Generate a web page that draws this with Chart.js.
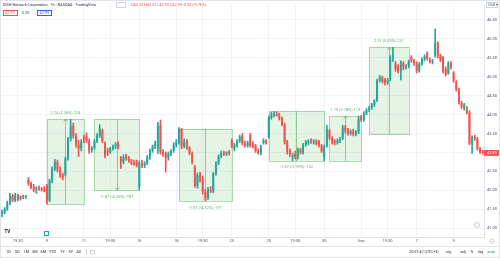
<!DOCTYPE html>
<html>
<head>
<meta charset="utf-8">
<script src="https://cdn.jsdelivr.net/npm/chart.js@4.4.0/dist/chart.umd.min.js"></script>
<style>
  html, body { margin: 0; padding: 0; background: #fff; }
</style>
</head>
<body>
<canvas id="dish" width="500" height="258"></canvas>
<script>
// hourly bars, Aug 4 (last 3 bars) .. Sep 10
var opens = [41.38,41.42,41.50,41.66,41.86,41.74,41.88,41.78,41.84,41.82,
  42.28,42.18,42.10,42.02,42.06,42.04,42.04,42.12,41.74,42.26,
  42.58,42.76,42.54,42.40,42.42,42.84,43.36,43.70,43.44,43.22,
  43.10,43.40,43.44,43.30,43.06,43.12,43.30,43.44,43.58,43.24,
  43.04,43.02,43.10,43.16,43.24,42.86,42.76,42.90,42.84,42.78,
  42.72,42.74,42.10,42.72,42.66,42.72,42.86,43.04,43.16,43.10,
  43.72,43.02,42.96,42.86,42.98,43.04,43.20,43.26,43.62,43.16,
  43.30,43.12,42.98,42.62,42.12,42.40,42.32,41.96,41.80,42.02,
  41.98,42.44,42.72,42.90,42.98,42.96,43.00,43.32,43.10,43.18,
  43.30,43.44,43.24,43.18,43.46,43.22,43.18,43.04,42.98,43.26,
  43.30,43.42,43.92,44.00,44.02,43.98,43.90,43.74,43.28,43.06,
  42.86,42.96,42.88,43.08,43.00,43.20,43.24,43.30,43.28,43.30,
  43.30,43.18,42.88,43.18,43.58,43.38,43.28,43.26,43.32,43.38,
  43.66,43.58,43.50,43.56,43.48,43.54,43.94,43.86,44.04,44.12,
  44.18,44.26,44.38,44.90,44.98,44.92,44.84,44.94,45.52,45.36,
  45.28,45.16,45.36,45.24,45.28,45.52,45.42,45.36,45.16,45.34,
  45.46,45.62,45.44,45.40,45.56,45.90,45.56,45.50,45.20,45.10,
  45.36,45.10,44.86,44.66,44.30,44.18,44.18,44.06,43.24,43.40,
  43.36,43.10,43.02];
var highs = [41.48,41.55,41.72,41.92,41.90,41.92,41.90,41.86,41.88,41.87,
  42.34,42.22,42.16,42.10,42.12,42.08,42.10,42.16,42.30,42.62,
  42.82,42.80,42.62,42.46,42.88,43.40,43.88,43.78,43.50,43.32,
  43.34,43.46,43.52,43.36,43.16,43.34,43.50,43.74,43.62,43.28,
  43.12,43.14,43.20,43.26,43.28,42.90,42.94,42.96,42.90,42.82,
  42.80,42.80,42.78,42.80,42.76,42.92,43.10,43.20,43.30,43.80,
  43.86,43.08,43.02,43.02,43.08,43.26,43.34,43.66,43.64,43.36,
  43.34,43.16,43.02,42.66,42.46,42.48,42.38,42.02,42.08,42.10,
  42.48,42.76,42.94,43.04,43.04,43.02,43.06,43.36,43.24,43.34,
  43.46,43.50,43.30,43.30,43.50,43.28,43.22,43.10,43.20,43.36,
  43.34,43.96,44.06,44.09,44.08,44.04,43.94,43.78,43.32,43.10,
  42.98,43.04,43.12,43.12,43.24,43.32,43.34,43.36,43.34,43.34,
  43.32,43.22,43.20,43.72,43.62,43.42,43.34,43.36,43.40,43.72,
  43.72,43.64,43.60,43.62,43.58,43.96,43.98,44.08,44.16,44.22,
  44.30,44.40,44.94,45.04,45.02,44.96,44.96,45.56,45.78,45.40,
  45.32,45.42,45.40,45.32,45.44,45.56,45.46,45.40,45.38,45.50,
  45.58,45.66,45.50,45.46,46.26,45.92,45.60,45.54,45.26,45.40,
  45.40,45.14,44.90,44.70,44.36,44.30,44.22,44.10,43.44,43.46,
  43.40,43.14,43.06];
var lows = [41.30,41.38,41.47,41.62,41.70,41.70,41.72,41.74,41.78,41.79,
  42.14,42.04,41.96,41.92,42.00,41.98,41.96,41.64,41.70,42.20,
  42.52,42.48,42.34,42.28,42.38,42.80,43.30,43.38,43.14,42.90,
  43.04,43.26,43.26,42.98,43.00,43.08,43.26,43.40,43.26,42.86,
  42.92,42.98,43.06,43.10,43.10,42.58,42.70,42.80,42.74,42.68,
  42.66,42.62,42.01,42.60,42.60,42.68,42.82,43.00,43.10,42.98,
  42.96,42.90,42.48,42.80,42.92,43.00,43.14,43.22,43.10,43.12,
  43.08,42.94,42.70,42.08,42.06,42.22,41.90,41.72,41.76,41.94,
  41.94,42.40,42.68,42.86,42.92,42.92,42.94,43.12,43.04,43.14,
  43.26,43.20,43.14,43.14,43.14,43.12,43.00,42.96,42.94,43.22,
  43.22,43.38,43.88,43.94,43.96,43.86,43.70,43.22,42.96,42.90,
  42.78,42.84,42.84,42.96,42.96,43.16,43.20,43.24,43.22,43.20,
  43.14,43.00,42.78,43.14,43.34,43.22,43.20,43.22,43.26,43.34,
  43.52,43.46,43.46,43.44,43.44,43.50,43.82,43.82,44.00,44.08,
  44.14,44.22,44.34,44.86,44.84,44.78,44.80,44.90,45.40,45.14,
  45.10,44.92,45.18,45.20,45.24,45.38,45.30,45.10,45.12,45.30,
  45.42,45.44,45.36,45.34,45.52,45.50,45.40,45.10,45.02,45.06,
  45.20,44.86,44.62,44.28,44.16,44.12,44.02,43.20,42.98,43.32,
  43.06,42.98,42.96];
var closes = [41.42,41.50,41.66,41.86,41.74,41.88,41.76,41.84,41.82,41.85,
  42.18,42.08,42.02,42.06,42.04,42.02,42.00,41.74,42.26,42.58,
  42.76,42.54,42.40,42.34,42.84,43.36,43.70,43.44,43.22,43.10,
  43.28,43.34,43.30,43.06,43.12,43.30,43.44,43.62,43.30,42.92,
  42.98,43.10,43.16,43.22,43.16,42.74,42.88,42.84,42.78,42.72,
  42.70,42.66,42.74,42.66,42.72,42.86,43.04,43.16,43.24,43.70,
  43.02,42.96,42.86,42.98,43.04,43.20,43.28,43.62,43.16,43.30,
  43.12,42.98,42.76,42.12,42.40,42.28,41.96,41.80,42.02,41.98,
  42.44,42.72,42.90,42.98,42.96,43.00,42.98,43.18,43.20,43.30,
  43.42,43.24,43.18,43.26,43.18,43.16,43.04,42.98,43.16,43.32,
  43.26,43.92,44.00,44.02,43.98,43.90,43.74,43.28,43.02,42.96,
  42.92,42.88,43.08,43.00,43.20,43.28,43.30,43.28,43.30,43.24,
  43.18,43.04,43.16,43.62,43.38,43.28,43.26,43.32,43.34,43.66,
  43.56,43.50,43.56,43.48,43.54,43.88,43.86,44.04,44.12,44.18,
  44.26,44.36,44.90,44.98,44.88,44.84,44.92,45.52,45.58,45.20,
  45.16,45.38,45.24,45.28,45.40,45.42,45.36,45.16,45.34,45.46,
  45.54,45.48,45.40,45.42,45.88,45.56,45.44,45.14,45.06,45.36,
  45.26,44.90,44.66,44.32,44.22,44.26,44.06,43.24,43.40,43.36,
  43.10,43.02,42.99];

// time axis labels (bar index -> text)
var xTickAt = [6, 17, 31, 41, 52, 66, 76, 87, 101, 111, 122, 136, 146, 157, 171];
var xTickText = ['19:30','9','11','19:30','16','18','19:30','23','25','19:30','30','Sep','19:30','7','9'];
var yTicks = [41, 41.5, 42, 42.5, 43, 43.5, 44, 44.5, 45, 45.5, 46, 46.5];

// price range boxes
var boxFrom = [17, 35, 67, 101, 124, 139];
var boxTo = [31, 52, 87, 122, 136, 154];
var boxLow = [41.64, 42.01, 41.72, 42.78, 42.78, 43.47];
var boxHigh = [43.88, 43.88, 43.63, 44.09, 43.96, 45.78];
var boxUp = [true, false, false, false, true, true];
var boxText = ['2.24 (5.38%) 224', '-1.87 (-4.26%) -187', '-1.91 (-4.32%) -191',
  '-1.32 (-2.99%) -132', '1.19 (2.78%) 119', '2.31 (5.39%) 231'];

var upColor = '#26a69a';
var downColor = '#ef5350';
var font = 'Roboto, "Noto Sans", sans-serif';

var labels = opens.map(function (o, i) { return i; });
var barColors = closes.map(function (c, i) { return c >= opens[i] ? upColor : downColor; });

var overlay = {
  id: 'overlay',
  beforeDatasetsDraw: function (chart) {
    var ctx = chart.ctx, xs = chart.scales.x, ys = chart.scales.y;
    ctx.save();
    ctx.font = '4px ' + font;
    ctx.textAlign = 'center';
    ctx.textBaseline = 'middle';
    for (var k = 0; k < boxFrom.length; k++) {
      var x1 = xs.getPixelForValue(boxFrom[k]);
      var x2 = xs.getPixelForValue(boxTo[k]);
      var yT = ys.getPixelForValue(boxHigh[k]);
      var yB = ys.getPixelForValue(boxLow[k]);
      var xm = (x1 + x2) / 2;
      ctx.fillStyle = 'rgba(76,175,80,0.14)';
      ctx.fillRect(x1, yT, x2 - x1, yB - yT);
      ctx.strokeStyle = 'rgba(76,175,80,0.45)';
      ctx.lineWidth = 1;
      ctx.strokeRect(Math.round(x1) + 0.5, Math.round(yT) + 0.5, Math.round(x2 - x1), Math.round(yB - yT));
      ctx.strokeStyle = 'rgba(76,175,80,0.6)';
      ctx.beginPath();
      ctx.moveTo(Math.round(xm) + 0.5, yT);
      ctx.lineTo(Math.round(xm) + 0.5, yB);
      ctx.stroke();
      // arrow head
      var ya = boxUp[k] ? yT : yB, d = boxUp[k] ? 2.5 : -2.5;
      ctx.beginPath();
      ctx.moveTo(Math.round(xm) - 1.5, ya + d);
      ctx.lineTo(Math.round(xm) + 0.5, ya);
      ctx.lineTo(Math.round(xm) + 2.5, ya + d);
      ctx.stroke();
      ctx.fillStyle = '#5cb860';
      ctx.fillText(boxText[k], xm, boxUp[k] ? yT - 6 : yB + 6.5);
    }
    ctx.restore();
  },
  afterDraw: function (chart) {
    var ctx = chart.ctx, ys = chart.scales.y, area = chart.chartArea;
    ctx.save();
    ctx.textBaseline = 'middle';
    // header
    ctx.font = '3.8px ' + font;
    ctx.fillStyle = '#2a2e39';
    ctx.fillText('DISH Network Corporation · 1h · NASDAQ · TradingView', 3, 5);
    ctx.strokeStyle = '#d1d4dc';
    ctx.strokeRect(116.5, 2.5, 9, 5);
    ctx.fillStyle = downColor;
    ctx.fillText('O43.32 H43.32 L42.99 C42.99 -0.33 (-0.76%)', 131, 5);
    ctx.strokeStyle = downColor;
    ctx.strokeRect(3.5, 10.5, 14, 5);
    ctx.fillText('42.99', 5, 13);
    ctx.fillStyle = '#50535e';
    ctx.fillText('0.00', 22, 13);
    ctx.strokeStyle = '#2962ff';
    ctx.strokeRect(37.5, 10.5, 14, 5);
    ctx.fillStyle = '#2962ff';
    ctx.fillText('42.99', 39.5, 13);
    ctx.strokeStyle = '#d1d4dc';
    ctx.strokeRect(486.5, 2.5, 11, 5);
    ctx.fillStyle = '#50535e';
    ctx.fillText('USD ▾', 488, 5);

    // last price tag
    var yl = ys.getPixelForValue(closes[closes.length - 1]);
    ctx.fillStyle = downColor;
    ctx.fillRect(area.right, yl - 3, 500 - area.right, 6);
    ctx.fillStyle = '#fff';
    ctx.fillText(closes[closes.length - 1].toFixed(2), area.right + 3, yl);

    // logo and small markers
    ctx.font = 'bold 4.5px ' + font;
    ctx.fillStyle = '#131722';
    ctx.fillText('TV', 4.5, 231.5);
    ctx.strokeStyle = upColor;
    ctx.strokeRect(44.5, 231.5, 4, 4);
    ctx.strokeStyle = '#c8cbd3';
    ctx.beginPath();
    ctx.arc(477, 225, 2.5, 0, Math.PI * 2);
    ctx.stroke();
    ctx.beginPath();
    ctx.arc(492, 241, 2, 0, Math.PI * 2);
    ctx.stroke();

    // bottom toolbar
    ctx.strokeStyle = '#e0e3eb';
    ctx.beginPath();
    ctx.moveTo(0, 246.5);
    ctx.lineTo(500, 246.5);
    ctx.stroke();
    ctx.font = '3.8px ' + font;
    ctx.fillStyle = '#2a2e39';
    var periods = ['1D', '5D', '1M', '3M', '6M', 'YTD', '1Y', '5Y', 'All'];
    var px = [6, 15, 23.5, 32, 40.5, 49, 60, 68.5, 76.5];
    periods.forEach(function (p, i) { ctx.fillText(p, px[i], 252); });
    ctx.strokeStyle = '#d1d4dc';
    ctx.beginPath();
    ctx.moveTo(86.5, 249);
    ctx.lineTo(86.5, 255);
    ctx.stroke();
    ctx.strokeRect(90.5, 250.5, 4, 3.5);
    ctx.fillText('20:57:47 (UTC+3)', 409, 252);
    ctx.fillText('reg', 446, 252);
    ctx.fillText('adj', 460.5, 252);
    ctx.fillText('%', 470.5, 252);
    ctx.fillText('log', 478, 252);
    ctx.fillStyle = '#2962ff';
    ctx.fillText('auto', 487.5, 252);
    ctx.strokeStyle = '#e0e3eb';
    ctx.strokeRect(0.5, 0.5, 499, 257);
    ctx.restore();
  }
};

var chart = new Chart(document.getElementById('dish'), {
  type: 'bar',
  data: {
    labels: labels,
    datasets: [{
      label: 'wick',
      data: lows.map(function (l, i) { return [l, highs[i]]; }),
      backgroundColor: barColors,
      barThickness: 1,
      grouped: false,
      order: 2
    }, {
      label: 'body',
      data: opens.map(function (o, i) { return [o, closes[i]]; }),
      backgroundColor: barColors,
      barPercentage: 0.72,
      categoryPercentage: 1,
      minBarLength: 1,
      grouped: false,
      order: 1
    }]
  },
  options: {
    responsive: false,
    animation: false,
    layout: { padding: { top: 0, right: 0, bottom: 12, left: 0 } },
    plugins: {
      legend: { display: false },
      tooltip: { enabled: false }
    },
    scales: {
      x: {
        offset: true,
        afterFit: function (s) { s.height = 9; },
        grid: {
          offset: false,
          drawTicks: false,
          color: function (c) { return c.tick && c.tick.label ? '#f0f3fa' : 'rgba(0,0,0,0)'; }
        },
        border: { color: '#e0e3eb' },
        ticks: {
          autoSkip: false,
          maxRotation: 0,
          padding: 2,
          color: '#50535e',
          font: { family: font, size: 4 },
          callback: function (v, i) {
            var k = xTickAt.indexOf(i);
            return k >= 0 ? xTickText[k] : '';
          }
        }
      },
      y: {
        position: 'right',
        min: 40.77,
        max: 46.885,
        afterFit: function (s) { s.width = 16; },
        afterBuildTicks: function (s) { s.ticks = yTicks.map(function (v) { return { value: v }; }); },
        grid: { color: '#f0f3fa', drawTicks: false },
        border: { color: '#e0e3eb' },
        ticks: {
          padding: 3,
          color: '#50535e',
          font: { family: font, size: 4 },
          callback: function (v) { return v.toFixed(2); }
        }
      }
    }
  },
  plugins: [overlay]
});
</script>
</body>
</html>
